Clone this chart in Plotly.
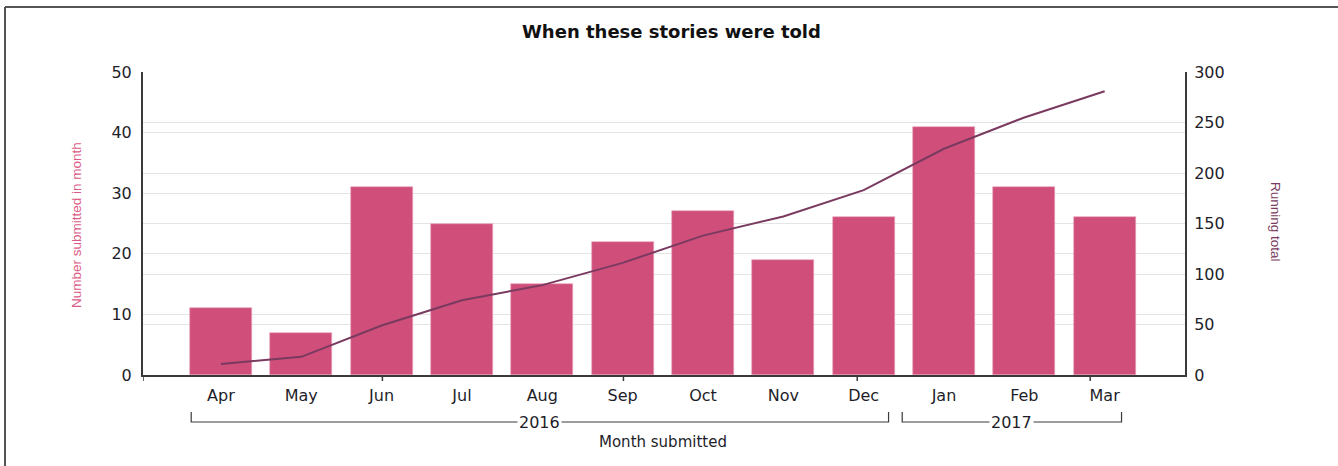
import plotly.graph_objects as go

# ---- data ----
months = ["Apr", "May", "Jun", "Jul", "Aug", "Sep", "Oct", "Nov", "Dec", "Jan", "Feb", "Mar"]
monthly_counts = [11, 7, 31, 25, 15, 22, 27, 19, 26, 41, 31, 26]
running_total = [11, 18, 49, 74, 89, 111, 138, 157, 183, 224, 255, 281]
years = ["2016", "2017"]
left_ticks = [0, 10, 20, 30, 40, 50]
right_ticks = [0, 50, 100, 150, 200, 250, 300]

# ---- style ----
BAR = "#cf4f7a"
LINE = "#7a3a60"
TXT = "#1e1e2a"
AX = "#3a3a3a"
GRID = "#e4e4e4"
FONT = "DejaVu Sans, Verdana, sans-serif"
NARROW = "Liberation Sans Narrow, Liberation Sans, Arial"

W, H = 1338, 466
L, R, T, B = 143, 1185, 72, 375  # plot area in page pixels
pw, ph = R - L, B - T


def px(x):
    return (x - L) / pw


def py(y):
    return (B - y) / ph


xs = list(range(len(months)))

fig = go.Figure()
fig.add_trace(go.Bar(
    x=xs, y=monthly_counts, width=0.77,
    marker=dict(color=BAR, line=dict(color="#e7a0ba", width=0.6)),
    yaxis="y", showlegend=False,
))
fig.add_trace(go.Scatter(
    x=xs, y=running_total, mode="lines",
    line=dict(color=LINE, width=2), yaxis="y2", showlegend=False,
))

shapes = []
# x-axis ticks
for tx in [-0.97, 2.01, 5.01, 7.92, 10.82]:
    shapes.append(dict(type="line", xref="x", yref="paper", x0=tx, x1=tx,
                       y0=0, y1=py(381), line=dict(color=AX, width=1.5)))
# year brackets
brackets = [(-0.37, 8.31), (8.48, 11.21)]
yb, yt = py(422), py(412)
for x0, x1 in brackets:
    shapes.append(dict(type="path", xref="x", yref="paper",
                       path=f"M {x0},{yt} L {x0},{yb} L {x1},{yb} L {x1},{yt}",
                       line=dict(color=AX, width=1.2)))
# outer frame (top and left edges)
shapes.append(dict(type="line", xref="paper", yref="paper",
                   x0=px(5), x1=px(W + 5), y0=py(7), y1=py(7),
                   line=dict(color="#555", width=2)))
shapes.append(dict(type="line", xref="paper", yref="paper",
                   x0=px(5), x1=px(5), y0=py(7), y1=py(H + 5),
                   line=dict(color="#555", width=2)))

annotations = [
    dict(text="<b>When these stories were told</b>", x=px(671), y=py(32),
         font=dict(family=FONT, size=18, color="#111")),
    dict(text="Number submitted in month", x=px(76), y=py(225), textangle=-90,
         font=dict(family=NARROW, size=13.5, color="#dc5a86")),
    dict(text="Running total", x=px(1276), y=py(222), textangle=90,
         font=dict(family=NARROW, size=13.5, color=LINE)),
    dict(text="Month submitted", x=px(663), y=py(442),
         font=dict(family=FONT, size=15, color=TXT)),
]
for a in annotations:
    a.update(xref="paper", yref="paper", showarrow=False, xanchor="center", yanchor="middle")
for (x0, x1), yr in zip(brackets, years):
    annotations.append(dict(text=yr, x=(x0 + x1) / 2, y=yb, xref="x", yref="paper",
                            showarrow=False, bgcolor="white", borderpad=1,
                            xanchor="center", yanchor="middle",
                            font=dict(family=FONT, size=16, color=TXT)))

fig.update_layout(
    width=W, height=H,
    margin=dict(l=L, r=W - R, t=T, b=H - B, pad=0),
    paper_bgcolor="white", plot_bgcolor="white",
    bargap=0,
    xaxis=dict(range=[-0.97, 12.0], tickvals=xs, ticktext=months, ticks="",
               showgrid=False, zeroline=False, showline=True, linecolor=AX, linewidth=2,
               tickfont=dict(family=FONT, size=16, color=TXT), ticklabelstandoff=5),
    yaxis=dict(range=[0, 50], tickvals=left_ticks, showgrid=True, gridcolor=GRID,
               zeroline=False, showline=True, linecolor=AX, linewidth=2, ticks="",
               tickfont=dict(family=FONT, size=16, color=TXT), ticklabelstandoff=6),
    yaxis2=dict(range=[0, 300], tickvals=right_ticks, overlaying="y", side="right",
                showgrid=True, gridcolor=GRID, zeroline=False, showline=True,
                linecolor=AX, linewidth=2, ticks="",
                tickfont=dict(family=FONT, size=16, color=TXT), ticklabelstandoff=4),
    shapes=shapes,
    annotations=annotations,
)

fig.write_html(
    "out.html",
    config={"displayModeBar": False},
    post_script="document.body.style.margin='0';document.body.style.overflow='hidden';",
)
